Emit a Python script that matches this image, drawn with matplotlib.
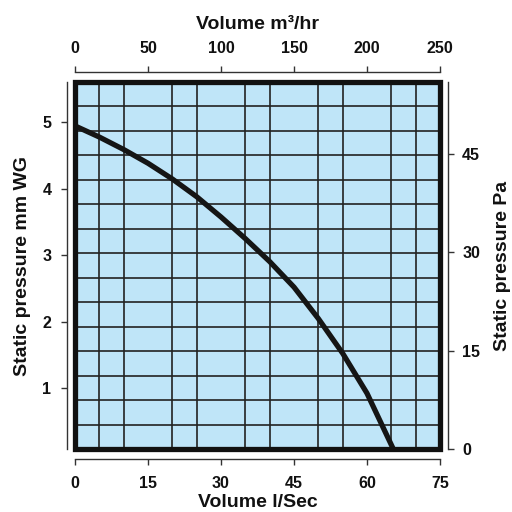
import matplotlib
matplotlib.use("Agg")
import matplotlib.pyplot as plt
from matplotlib.patches import Rectangle
from matplotlib.ticker import MultipleLocator, LinearLocator

# fan curve: volume (l/s) vs static pressure (Pa)
flow_ls = [0, 5, 10, 15, 20, 25, 30, 35, 40, 45, 50, 55, 60, 65.4]
pressure_pa = [49.3, 47.6, 45.7, 43.6, 41.2, 38.5, 35.4, 32.1, 28.6, 24.7, 19.9, 14.6, 8.5, 0.0]

ls_ticks = [0, 15, 30, 45, 60, 75]
m3hr_ticks = [0, 50, 100, 150, 200, 250]
mmwg_ticks = [1, 2, 3, 4, 5]
pa_ticks = [0, 15, 30, 45]

plt.rcParams["font.family"] = ["Liberation Sans", "DejaVu Sans"]
plt.rcParams["font.weight"] = "bold"

W = 512
fig = plt.figure(figsize=(5.12, 5.12), dpi=100)
# plot box spans x 75..440 px, y 82..449 px
ax = fig.add_axes([75 / W, 1 - 449 / W, 365 / W, 367 / W])
ax.set_facecolor("#bfe5f8")
ax.set_xlim(0, 75)
ax.set_ylim(0.09, 5.6)

# 15 x 15 grid of squares
ax.xaxis.set_minor_locator(MultipleLocator(5))
ax.yaxis.set_minor_locator(LinearLocator(16))
ax.grid(which="minor", color="#222222", lw=1.2)
ax.tick_params(which="minor", length=0)

ax_pa = ax.twinx()
ax_pa.set_ylim(0, 56)
ax_pa.plot(flow_ls, pressure_pa, color="#151515", lw=3.8,
           solid_capstyle="butt", solid_joinstyle="round", zorder=3)

ax_top = ax.twiny()
ax_top.set_xlim(0, 250)

# thick frame around the chart area
ax_pa.add_patch(Rectangle((0, 0), 1, 1, transform=ax_pa.transAxes, fill=False,
                          lw=3.8, ec="#111111", zorder=10, clip_on=False))

spine_col = "#333333"
for a in (ax, ax_pa, ax_top):
    for s in a.spines.values():
        s.set_visible(False)
        s.set_color(spine_col)
        s.set_linewidth(1.0)

ax.spines["left"].set_visible(True)
ax.spines["left"].set_position(("outward", 6))
ax.spines["bottom"].set_visible(True)
ax.spines["bottom"].set_position(("outward", 7.5))
ax_pa.spines["right"].set_visible(True)
ax_pa.spines["right"].set_position(("outward", 6))
ax_top.spines["top"].set_visible(True)
ax_top.spines["top"].set_position(("outward", 7.5))

ax.set_xticks(ls_ticks)
ax.set_yticks(mmwg_ticks)
ax_pa.set_yticks(pa_ticks)
ax_top.set_xticks(m3hr_ticks)

tick_kw = dict(which="major", direction="out", length=4, width=1.0,
               color=spine_col, labelsize=11.5, labelcolor="#111111")
ax.tick_params(axis="y", pad=7, **tick_kw)
ax.tick_params(axis="x", pad=8, **tick_kw)
ax_pa.tick_params(axis="y", pad=6, **tick_kw)
ax_top.tick_params(axis="x", pad=7, **tick_kw)

label_kw = dict(fontsize=14, fontweight="bold", color="#111111")
ax.set_xlabel("Volume l/Sec", labelpad=2, **label_kw)
ax.set_ylabel("Static pressure mm WG", labelpad=8, **label_kw)
ax_pa.set_ylabel("Static pressure Pa", labelpad=10, **label_kw)
ax_top.set_xlabel("Volume m³/hr", labelpad=9, **label_kw)

fig.savefig("out.png", dpi=100)
